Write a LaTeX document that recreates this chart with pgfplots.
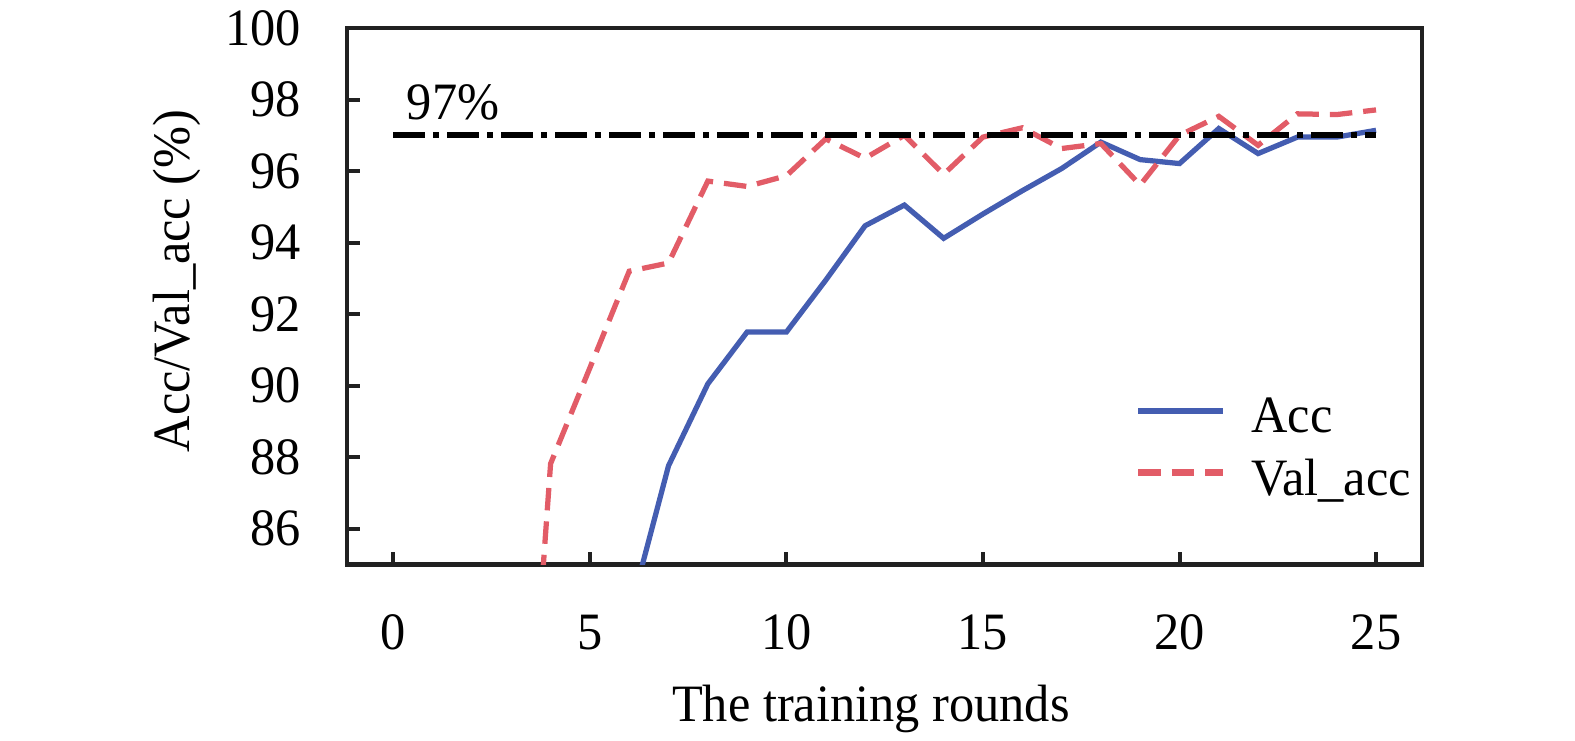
\documentclass[border=0pt]{standalone}
\usepackage{fontspec}
\setmainfont{Liberation Serif}[FakeStretch=0.96]
\usepackage{pgfplots}
\pgfplotsset{compat=1.18}
\definecolor{accblue}{RGB}{68,93,177}
\definecolor{valred}{RGB}{226,92,103}
\begin{document}
\begin{tikzpicture}
\path[use as bounding box] (-69.4pt,-35.1pt) rectangle (245.6pt,112.9pt);
\begin{axis}[
  at={(0pt,0pt)}, anchor=south west,
  scale only axis, width=215pt, height=107.3pt,
  xmin=-1.18, xmax=26.17, ymin=85, ymax=100,
  xtick={0,5,10,15,20,25}, ytick={86,88,...,100},
  tick align=inside, xtick pos=bottom, ytick pos=left,
  major tick length=2.6pt,
  axis line style={line width=0.9pt, black!87},
  every tick/.style={line width=0.8pt, black!87},
  /pgf/number format/assume math mode=true,
  tick label style={font=\fontsize{10.5}{12}\selectfont, inner sep=0pt},
  xticklabel style={yshift=-9.9pt},
  yticklabel style={xshift=-9pt},
  label style={font=\fontsize{10.5}{12}\selectfont},
  xlabel={The training rounds},
  ylabel={Acc/Val\_acc (\%)},
  xlabel style={at={(axis description cs:0.4874,-0.27)}, anchor=center},
  ylabel style={at={(axis description cs:-0.158,0.5285)}, anchor=center},
  legend style={at={(axis description cs:0.733,0.3105)}, anchor=north west,
    draw=none, fill=none, inner sep=0pt, outer sep=0pt, row sep=3.7pt,
    nodes={inner sep=0pt}, font=\fontsize{10.5}{12}\selectfont,
    /tikz/every odd column/.append style={column sep=5pt}},
  legend cell align=left,
  legend image code/.code={\draw[#1, line width=1.3pt] (0pt,1.6pt) -- (17pt,1.6pt);},
]
\addplot[accblue, line width=1.05pt] coordinates {
 (6,83.6) (7,87.76) (8,90.05) (9,91.5) (10,91.5) (11,92.95) (12,94.47)
 (13,95.05) (14,94.12) (15,94.8) (16,95.45) (17,96.07) (18,96.81)
 (19,96.32) (20,96.21) (21,97.19) (22,96.49) (23,96.95) (24,96.95) (25,97.14)};
\addplot[valred, line width=1.05pt, dash pattern=on 4.5pt off 2.2pt] coordinates {
 (3,72.5) (4,87.82) (5,90.5) (6,93.2) (7,93.43) (8,95.72) (9,95.57) (10,95.87)
 (11,96.9) (12,96.36) (13,97.0) (14,95.91) (15,96.95) (16,97.21) (17,96.63)
 (18,96.77) (19,95.61) (20,97.0) (21,97.53) (22,96.72) (23,97.6) (24,97.58) (25,97.71)};
\addplot[black, line width=1.25pt, dash pattern=on 6.4pt off 1.6pt on 1.2pt off 1.6pt, forget plot]
 coordinates {(0,97) (25,97)};
\legend{Acc, Val\_acc}
\node[anchor=base west, inner sep=0pt, font=\fontsize{10.5}{12}\selectfont] at (axis cs:0.32,97.43) {97\%};
\end{axis}
\end{tikzpicture}
\end{document}
